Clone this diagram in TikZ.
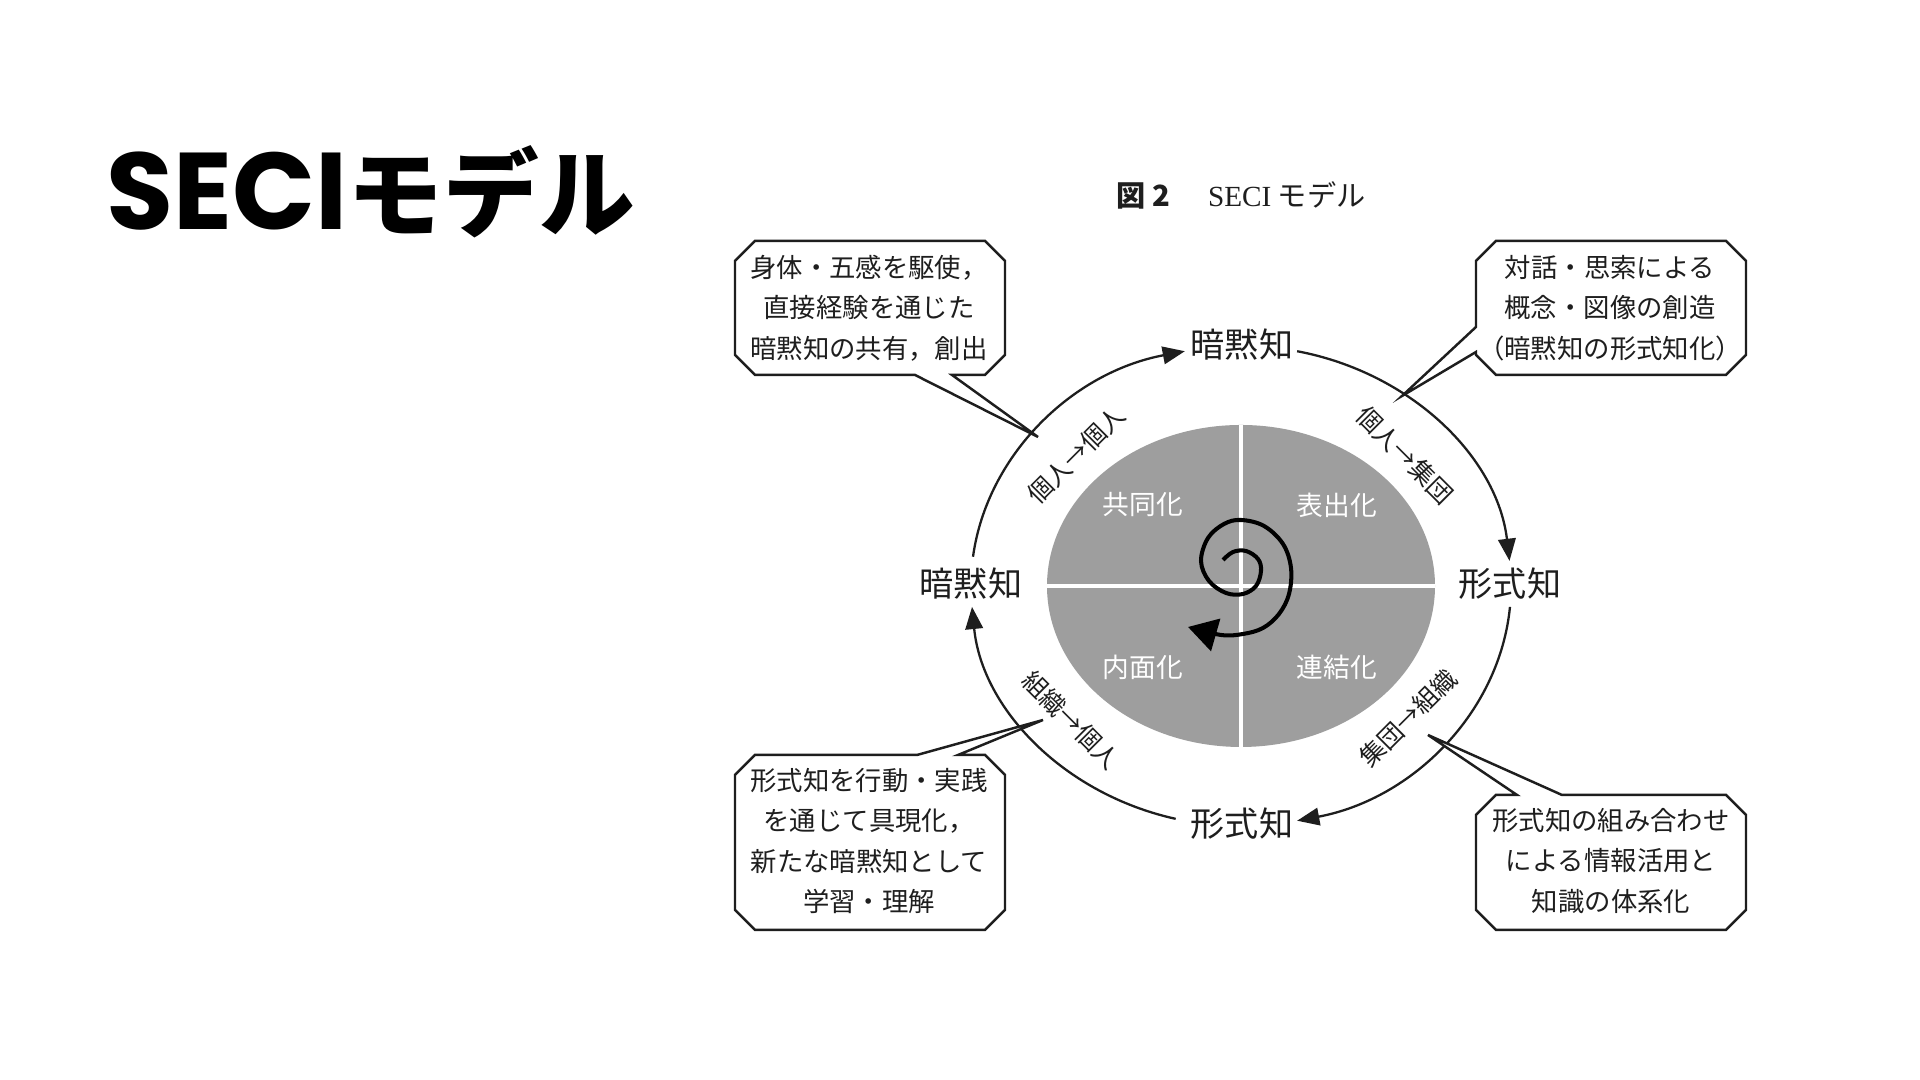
\documentclass[tikz,border=0pt]{standalone}
\usepackage{fontspec}
\setmainfont{Noto Sans CJK JP}
\newfontfamily\titlefont{Poppins}
\newfontfamily\capserif{Liberation Serif}
\usepackage{tikz}
\usetikzlibrary{arrows.meta,calc}

\definecolor{ink}{RGB}{30,30,30}
\definecolor{quadgray}{RGB}{158,158,158}

\begin{document}
\begin{tikzpicture}[x=0.01cm, y=0.01cm,
  phase/.style={inner sep=0pt, text=ink, font=\fontsize{9.7}{11}\selectfont},
  quadlbl/.style={inner sep=0pt, text=white, font=\fontsize{7.6}{9}\selectfont},
  flowlbl/.style={inner sep=0pt, text=ink, font=\fontsize{7.1}{8}\selectfont},
  notetxt/.style={inner sep=0pt, text=ink, align=center, font=\fontsize{7.5}{11.5}\selectfont},
  bubble/.style={draw=ink, line width=0.7pt, fill=white},
  cyclearr/.style={draw=ink, line width=0.65pt, -{Triangle[length=6.3pt, width=5pt]}},
  spiralarr/.style={draw=black, line width=1.15pt, -{Triangle[length=8.2pt, width=9.4pt]}}
]
\fill[white] (0,0) rectangle (1920,1080);
\useasboundingbox (0,0) rectangle (1920,1080);

% slide title and figure caption
\node[anchor=base west, inner sep=0pt] (title) at (106,850)
  {{\titlefont\bfseries\fontsize{31}{34}\selectfont SECI}{\bfseries\fontsize{27.2}{34}\selectfont モデル}};
\node[inner sep=0pt, text=ink, font=\fontsize{8.3}{10}\selectfont] (caption) at (1241,885)
  {\textbf{図 2}\hspace{1.3em}{\capserif SECI} モデル};

% four quadrants
\coordinate (C) at (1241,494);
\fill[quadgray] (C) ellipse[x radius=194, y radius=161];
\draw[white, line width=1.1pt] ($(C)+(0,161)$) -- ($(C)+(0,-161)$);
\draw[white, line width=1.1pt] ($(C)+(-194,0)$) -- ($(C)+(194,0)$);
\node[quadlbl] (soc) at (1143,575) {共同化};
\node[quadlbl] (ext) at (1337,575) {表出化};
\node[quadlbl] (int) at (1143,413) {内面化};
\node[quadlbl] (com) at (1337,413) {連結化};

% spiral
\begin{scope}[shift={(C)}]
\draw[spiralarr] plot[smooth, tension=0.6] coordinates {
  (-18,26) (-8,34) (5,35) (17,27) (20,15) (15,0) (2,-8) (-15,-7) (-32,5)
  (-40,25) (-33,48) (-17,62) (0,66) (23,60) (42,42) (50,18) (48,-8)
  (38,-28) (22,-42) (2,-48) (-20,-49) (-53,-41)};
\end{scope}

% knowledge types on the cycle
\node[phase] (tacitT) at (1242,735) {暗黙知};
\node[phase] (explR) at (1510,496) {形式知};
\node[phase] (explB) at (1242,256) {形式知};
\node[phase] (tacitL) at (971,496) {暗黙知};

\draw[cyclearr] ($(C)+(173:270 and 240)$) arc[start angle=173, end angle=102, x radius=270, y radius=240];
\draw[cyclearr] ($(C)+(78:270 and 240)$) arc[start angle=78, end angle=6, x radius=270, y radius=240];
\draw[cyclearr] ($(C)+(-5:270 and 240)$) arc[start angle=-5, end angle=-78, x radius=270, y radius=240];
\draw[cyclearr] ($(C)+(-104:270 and 240)$) arc[start angle=-104, end angle=-175, x radius=270, y radius=240];

\node[flowlbl, rotate=45] (ii) at (1076,625) {個人→個人};
\node[flowlbl, rotate=-45] (ig) at (1405,625) {個人→集団};
\node[flowlbl, rotate=45] (go) at (1408,362) {集団→組織};
\node[flowlbl, rotate=-45] (oi) at (1071,360) {組織→個人};

% callouts
\coordinate (soctip) at (1038,643);
\draw[bubble] (755,839) -- (985,839) -- (1005,819) -- (1005,725) -- (985,705) -- (952,705)
  -- (soctip) -- (915,705) -- (755,705) -- (735,725) -- (735,819) -- cycle;
\node[notetxt] (socnote) at (869,772) {身体・五感を駆使，\\直接経験を通じた\\暗黙知の共有，創出};

\coordinate (exttip) at (1402,684);
\draw[bubble] (1496,839) -- (1726,839) -- (1746,819) -- (1746,725) -- (1726,705) -- (1496,705)
  -- (1476,725) -- (1476,728) -- (exttip) -- (1476,753) -- (1476,819) -- cycle;
\node[notetxt] (extnote) at (1610,772) {対話・思索による\\概念・図像の創造\\（暗黙知の形式知化）};

\coordinate (inttip) at (1043,360);
\draw[bubble] (755,325) -- (917,325) -- (inttip) -- (958,325) -- (985,325) -- (1005,305)
  -- (1005,170) -- (985,150) -- (755,150) -- (735,170) -- (735,305) -- cycle;
\node[notetxt] (intnote) at (869,239) {形式知を行動・実践\\を通じて具現化，\\新たな暗黙知として\\学習・理解};

\coordinate (comtip) at (1428,345);
\draw[bubble] (1496,285) -- (1517,285) -- (comtip) -- (1562,285) -- (1726,285) -- (1746,265)
  -- (1746,170) -- (1726,150) -- (1496,150) -- (1476,170) -- (1476,265) -- cycle;
\node[notetxt] (comnote) at (1611,219) {形式知の組み合わせ\\による情報活用と\\知識の体系化};
\end{tikzpicture}
\end{document}
